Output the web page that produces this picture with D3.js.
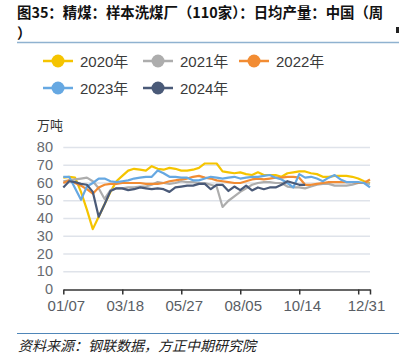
<!DOCTYPE html>
<html lang="zh">
<head>
  <meta charset="UTF-8">
  <title>精煤：样本洗煤厂日均产量</title>
  <script src="https://d3js.org/d3.v7.min.js"></script>
  <style>
    body { margin: 0; background: #fff; }
    svg text { font-family: "Liberation Sans", "Noto Sans CJK SC", sans-serif; }
  </style>
</head>
<body>
  <div id="chart"></div>
  <script>
    // weekly index 0..52, first week 01/07
    const tickWeeks = [0, 10, 20, 30, 40, 50, 52];
    const tickLabels = ["01/07", "03/18", "05/27", "08/05", "10/14", "", "12/31"];
    const yTicks = [0, 10, 20, 30, 40, 50, 60, 70, 80];

    const seriesNames = ["2020年", "2021年", "2022年", "2023年", "2024年"];
    const seriesColors = ["#f5c400", "#adadad", "#f28c33", "#66a8e2", "#4a5a78"];

    const v2020 = [63, 63.5, 63, 55, 45, 34, 41, 48, 55, 61, 64, 67, 68, 67.5, 67, 69.5, 68, 67.5, 68.5, 68,
      67, 67, 67.5, 68.5, 71, 71, 71, 66.5, 66, 65.5, 66, 65, 64.5, 66, 64.5, 64.5, 64.5, 63.5, 65.5, 66,
      66.5, 66.5, 65.5, 65, 63.5, 63.5, 64, 64, 64, 63.5, 62.5, 61, 60];
    const v2021 = [61, 61.5, 62, 62.5, 63, 61, 57, 51, 56, 57, 57, 57.5, 57.5, 58, 58, 59, 60.5, 60, 59.5, 60,
      61, 60.5, 60.5, 60, 60, 59, 58, 46.5, 50, 52.5, 55, 57, 59, 60, 60.5, 60.5, 60, 60, 58, 57.5,
      57.5, 57, 58, 59, 59.5, 59.5, 58.5, 58.5, 58.5, 59, 60, 60, 59.5];
    const v2022 = [60, 61.5, 60, 58.5, 56.5, 54, 57.5, 59, 59.5, 59.5, 60, 60, 60, 60, 59.5, 59.5, 59.5, 60, 61, 61.5,
      62, 62.5, 63.5, 64, 63, 62.5, 61.5, 61, 60.5, 60, 60, 61, 62, 62.5, 62, 62.5, 63, 63, 63.5, 63.5,
      63, 59, 59, 59.5, 60, 60.5, 60.5, 60.5, 60.5, 60.5, 60, 60, 62];
    const v2023 = [63.5, 63.5, 57, 50.5, 58, 60, 62.5, 62.5, 61, 60.5, 61, 61.5, 62.5, 63, 63.5, 63.5, 67, 65.5, 63.5, 63.5,
      63, 63, 61.5, 61.5, 62.5, 63.5, 63, 62.5, 63, 63.5, 62.5, 63, 63.5, 63.5, 64, 64.5, 63, 62, 60, 57.5,
      65, 63, 63.5, 62.5, 61, 63, 64.5, 62, 60.5, 60.5, 60.5, 60, 57.5];
    const v2024 = [57.5, 61, 60.5, 59.5, 59, 55, 41, 48, 55.5, 57, 57, 56, 56.5, 57.5, 57, 56.5, 57, 56.5, 55, 57.5,
      58, 58.5, 58.5, 59.5, 59.5, 56.5, 59, 59, 55.5, 58, 56, 58.5, 55.8, 57.5, 56.5, 57.5, 57.5, 59, 61, 60,
      59, 59];
    const allSeries = [v2020, v2021, v2022, v2023, v2024];

    const W = 399, H = 361;
    const svg = d3.select("#chart").append("svg")
      .attr("width", W)
      .attr("height", H);

    // title, wrapped like the original
    svg.append("text")
      .attr("x", 17).attr("y", 18)
      .attr("font-size", 14.4)
      .attr("font-weight", "bold")
      .attr("fill", "#111")
      .style("font-family", "'Noto Sans CJK SC', sans-serif")
      .text("图35：精煤：样本洗煤厂（110家）：日均产量：中国（周");
    svg.append("text")
      .attr("x", 17).attr("y", 39)
      .attr("font-size", 14.4)
      .attr("font-weight", "bold")
      .attr("fill", "#111")
      .style("font-family", "'Noto Sans CJK SC', sans-serif")
      .text("）");
    svg.append("rect")
      .attr("x", 396).attr("y", 27).attr("width", 3).attr("height", 6)
      .attr("fill", "#222");
    svg.append("line")
      .attr("x1", 17).attr("x2", W)
      .attr("y1", 42.5).attr("y2", 42.5)
      .attr("stroke", "#8fb2d0").attr("stroke-width", 1.5);

    // legend
    const legendPos = [[43, 61], [143, 61], [239, 61], [43, 88], [143, 88]];
    const legend = svg.append("g");
    seriesNames.forEach((name, i) => {
      const [lx, ly] = legendPos[i];
      const g = legend.append("g").attr("transform", `translate(${lx},${ly})`);
      g.append("line")
        .attr("x1", 0).attr("x2", 30)
        .attr("stroke", seriesColors[i]).attr("stroke-width", 2.5);
      g.append("circle")
        .attr("cx", 15).attr("r", 6.5)
        .attr("fill", seriesColors[i]);
      g.append("text")
        .attr("x", 37).attr("y", 5.5)
        .attr("font-size", 15)
        .attr("fill", "#3a3a3a")
        .text(name);
    });

    // unit
    svg.append("text")
      .attr("x", 37).attr("y", 130)
      .attr("font-size", 13)
      .attr("fill", "#333")
      .style("font-family", "'Noto Sans CJK SC', sans-serif")
      .text("万吨");

    const x = d3.scaleLinear().domain([0, 52]).range([63.3, 370]);
    const y = d3.scaleLinear().domain([0, 80]).range([289.5, 147.5]);

    // grid
    svg.append("g")
      .selectAll("line")
      .data(yTicks.filter(d => d > 0))
      .enter().append("line")
        .attr("x1", x(0)).attr("x2", x(52))
        .attr("y1", d => y(d)).attr("y2", d => y(d))
        .attr("stroke", "#dfe3ea").attr("stroke-width", 1.5);

    // y labels
    svg.append("g")
      .selectAll("text")
      .data(yTicks)
      .enter().append("text")
        .attr("x", 53)
        .attr("y", d => y(d) + 4.5)
        .attr("text-anchor", "end")
        .attr("font-size", 14.5)
        .attr("fill", "#666a70")
        .text(d => d);

    // x axis
    const xAxis = svg.append("g")
      .attr("transform", `translate(0,${y(0)})`)
      .call(d3.axisBottom(x)
        .tickValues(tickWeeks)
        .tickSize(5)
        .tickSizeOuter(0)
        .tickFormat((d, i) => tickLabels[i]));
    xAxis.select(".domain").attr("stroke", "#333").attr("stroke-width", 1.5);
    xAxis.selectAll(".tick line").attr("stroke", "#333").attr("stroke-width", 1.5);
    xAxis.selectAll(".tick text")
      .attr("font-size", 15)
      .attr("fill", "#595d64")
      .attr("y", 10.5)
      .attr("dx", (d, i) => i === tickWeeks.length - 1 ? -4 : 2.5);

    // lines
    const line = d3.line()
      .x((d, i) => x(i))
      .y(d => y(d));
    svg.append("g")
      .selectAll("path")
      .data(allSeries)
      .enter().append("path")
        .attr("d", d => line(d))
        .attr("fill", "none")
        .attr("stroke", (d, i) => seriesColors[i])
        .attr("stroke-width", 2.2)
        .attr("stroke-linejoin", "round");

    // source
    svg.append("line")
      .attr("x1", 17).attr("x2", W)
      .attr("y1", 333.5).attr("y2", 333.5)
      .attr("stroke", "#4f86b8").attr("stroke-width", 1.2);
    svg.append("text")
      .attr("x", 18).attr("y", 351)
      .attr("font-size", 14)
      .attr("font-style", "italic")
      .attr("fill", "#222")
      .style("font-family", "'Noto Sans CJK SC', sans-serif")
      .text("资料来源：钢联数据，方正中期研究院");
  </script>
</body>
</html>
